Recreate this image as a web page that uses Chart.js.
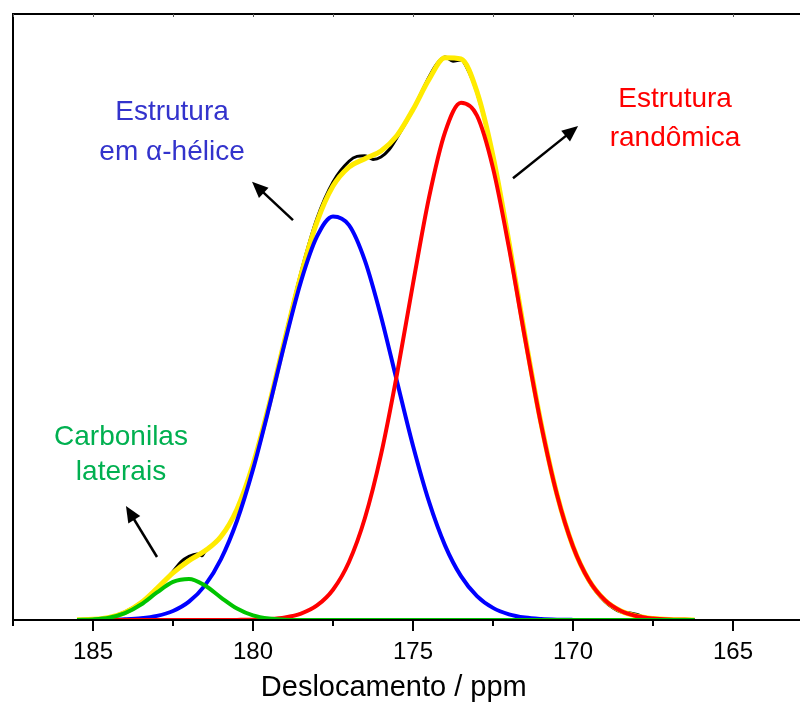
<!DOCTYPE html>
<html>
<head>
<meta charset="utf-8">
<script src="https://cdn.jsdelivr.net/npm/chart.js@4.4.1/dist/chart.umd.min.js"></script>
<style>
  html, body { margin: 0; padding: 0; background: #fff; }
  #wrap { width: 800px; height: 704px; }
</style>
</head>
<body>
<div id="wrap"><canvas id="myChart" width="800" height="704"></canvas></div>
<script>
// deslocamento quimico (ppm) das curvas de ajuste
var ppm = [185.5,185.0,184.5,184.0,183.5,183.0,182.5,182.0,181.5,181.0,
           180.5,180.0,179.5,179.0,178.5,178.0,177.5,177.0,176.5,176.0,
           175.5,175.0,174.5,174.0,173.5,173.0,172.5,172.0,171.5,171.0,
           170.5,170.0,169.5,169.0,168.5,168.0,167.5,167.0,166.5,166.2];

var laterais = [0.02,0.10,0.38,1.12,2.55,4.54,6.28,6.77,5.68,3.71,
                1.89,0.75,0.23,0.06,0.01,0,0,0,0,0,
                0,0,0,0,0,0,0,0,0,0,
                0,0,0,0,0,0,0,0,0,0];
var helice = [0.01,0.01,0.04,0.12,0.29,0.68,1.49,3.03,5.72,10.05,
              16.38,24.85,35.02,45.89,55.88,63.29,66.60,65.16,59.26,50.10,
              39.36,28.75,19.52,12.32,7.23,3.94,2.00,0.94,0.41,0.17,
              0.06,0.02,0.01,0,0,0,0,0,0,0];
var randomica = [0,0,0,0,0,0,0,0,0,0.01,
                 0.02,0.05,0.16,0.43,1.06,2.40,5.00,9.58,16.87,27.29,
                 40.59,55.49,69.69,80.46,85.35,83.22,74.57,61.40,46.46,32.32,
                 20.66,12.13,6.55,3.25,1.48,0.62,0.24,0.08,0.03,0.01];
var soma = [0.03,0.11,0.42,1.24,2.84,5.22,7.77,9.80,11.41,13.77,
            18.29,25.65,35.41,46.38,56.95,65.69,71.60,74.74,76.13,77.39,
            79.95,84.24,89.21,92.78,92.58,87.16,76.57,62.34,46.87,32.49,
            20.72,12.15,6.55,3.25,1.48,0.62,0.24,0.08,0.03,0.01];

// espectro experimental
var expPpm = [185.5,185.0,184.5,184.0,183.5,183.0,182.75,182.5,182.25,182.0,
              181.75,181.6,181.5,181.0,180.5,180.0,179.5,179.0,178.5,178.0,
              177.5,177.0,176.75,176.5,176.25,176.0,175.75,175.5,175.0,174.5,
              174.25,174.0,173.75,173.5,173.25,173.0,172.5,172.0,171.5,171.0,
              170.5,170.0,169.5,169.0,168.75,168.5,168.25,168.0,167.75,167.5,
              167.0,166.5];
var expInt = [0.03,0.11,0.45,1.35,2.9,5.1,6.5,8.0,9.6,10.5,
              10.9,10.6,11.3,13.8,18.3,25.7,35.4,46.6,57.4,66.3,
              72.3,75.7,76.5,76.6,76.0,76.4,77.6,79.6,84.2,89.6,
              91.8,92.9,92.2,92.4,90.4,87.0,76.6,62.5,47.0,32.6,
              20.8,12.2,6.4,3.0,2.0,1.3,1.2,0.9,0.4,0.25,
              0.08,0.03];

var ticksMaiores = [185,180,175,170,165];
var ticksMenores = [187.5,182.5,177.5,172.5,167.5];

// legendas com setas (coordenadas em ppm / intensidade)
var notas = [
  {texto:['Estrutura','em α-hélice'], x:182.53, y:[83.8,77.2], cor:'#3333cc',
   seta:[178.75,66.0,180.03,72.3]},
  {texto:['Estrutura','randômica'], x:166.81, y:[86.0,79.5], cor:'#ff0000',
   seta:[171.875,72.9,169.84,81.5]},
  {texto:['Carbonilas','laterais'], x:184.125, y:[30.2,24.3], cor:'#00b050',
   seta:[183.0,10.4,183.97,18.8]}
];
var tituloX = {texto:'Deslocamento / ppm', x:175.6};

function pontos(xs, ys){
  var p = [];
  for(var i=0;i<xs.length;i++){ p.push({x:xs[i], y:ys[i]}); }
  return p;
}

var fonte = '"Liberation Sans", Arial, sans-serif';

// moldura, ticks, titulo do eixo e anotacoes
var eixos = {
  id:'eixos',
  afterDatasetsDraw:function(chart){
    var c = chart.ctx, a = chart.chartArea;
    var sx = chart.scales.x, sy = chart.scales.y;
    c.save();
    c.strokeStyle = '#000';
    c.lineWidth = 2;
    c.beginPath();
    c.moveTo(a.left, a.bottom); c.lineTo(a.right, a.bottom);
    c.moveTo(a.left, a.bottom); c.lineTo(a.left, a.top);
    c.lineTo(a.right, a.top);
    c.stroke();
    c.beginPath();
    ticksMaiores.forEach(function(v){
      var px = sx.getPixelForValue(v);
      c.moveTo(px, a.bottom); c.lineTo(px, a.bottom + 11);
    });
    ticksMenores.forEach(function(v){
      var px = sx.getPixelForValue(v);
      c.moveTo(px, a.bottom); c.lineTo(px, a.bottom + 6);
    });
    c.stroke();
    c.lineWidth = 1;
    c.strokeStyle = '#555';
    c.beginPath();
    ticksMaiores.concat(ticksMenores).forEach(function(v){
      var px = Math.round(sx.getPixelForValue(v)) + 0.5;
      c.moveTo(px, a.top); c.lineTo(px, a.top + 3);
    });
    c.stroke();

    c.textAlign = 'center';
    c.textBaseline = 'middle';
    c.fillStyle = '#000';
    c.font = '29px ' + fonte;
    c.fillText(tituloX.texto, sx.getPixelForValue(tituloX.x), a.bottom + 68);

    c.font = '28px ' + fonte;
    notas.forEach(function(n){
      c.fillStyle = n.cor;
      n.texto.forEach(function(t, k){
        c.fillText(t, sx.getPixelForValue(n.x), sy.getPixelForValue(n.y[k]));
      });
      var x0 = sx.getPixelForValue(n.seta[0]), y0 = sy.getPixelForValue(n.seta[1]);
      var x1 = sx.getPixelForValue(n.seta[2]), y1 = sy.getPixelForValue(n.seta[3]);
      var ang = Math.atan2(y1 - y0, x1 - x0);
      var L = 16, W = 7;
      c.strokeStyle = '#000';
      c.fillStyle = '#000';
      c.lineWidth = 2.5;
      c.beginPath();
      c.moveTo(x0, y0);
      c.lineTo(x1 - Math.cos(ang)*L*0.8, y1 - Math.sin(ang)*L*0.8);
      c.stroke();
      c.beginPath();
      c.moveTo(x1, y1);
      c.lineTo(x1 - Math.cos(ang)*L - Math.sin(ang)*W, y1 - Math.sin(ang)*L + Math.cos(ang)*W);
      c.lineTo(x1 - Math.cos(ang)*L + Math.sin(ang)*W, y1 - Math.sin(ang)*L - Math.cos(ang)*W);
      c.closePath();
      c.fill();
    });
    c.restore();
  }
};

var ctx = document.getElementById('myChart').getContext('2d');
var grafico = new Chart(ctx, {
  type:'scatter',
  data:{
    datasets:[
      {label:'Carbonilas laterais', data:pontos(ppm, laterais), borderColor:'#00c400', borderWidth:4, order:0},
      {label:'Estrutura randômica', data:pontos(ppm, randomica), borderColor:'#ff0000', borderWidth:4, order:1},
      {label:'Estrutura em α-hélice', data:pontos(ppm, helice), borderColor:'#0000ff', borderWidth:4, order:2},
      {label:'Ajuste', data:pontos(ppm, soma), borderColor:'#ffeb00', borderWidth:5, order:3},
      {label:'Experimental', data:pontos(expPpm, expInt), borderColor:'#000000', borderWidth:3, order:4}
    ]
  },
  options:{
    responsive:false,
    animation:false,
    events:[],
    datasets:{
      scatter:{showLine:true, pointRadius:0, cubicInterpolationMode:'monotone', fill:false}
    },
    layout:{padding:{left:13, top:14, right:0, bottom:0}},
    plugins:{legend:{display:false}, tooltip:{enabled:false}},
    scales:{
      x:{
        type:'linear', reverse:true, min:162.906, max:187.5,
        grid:{display:false}, border:{display:false},
        afterBuildTicks:function(s){ s.ticks = ticksMaiores.map(function(v){ return {value:v}; }); },
        afterFit:function(s){ s.height = 84; },
        ticks:{color:'#000', padding:10, maxRotation:0,
               font:{family:fonte, size:24}}
      },
      y:{display:false, min:0, max:100}
    }
  },
  plugins:[eixos]
});
</script>
</body>
</html>
